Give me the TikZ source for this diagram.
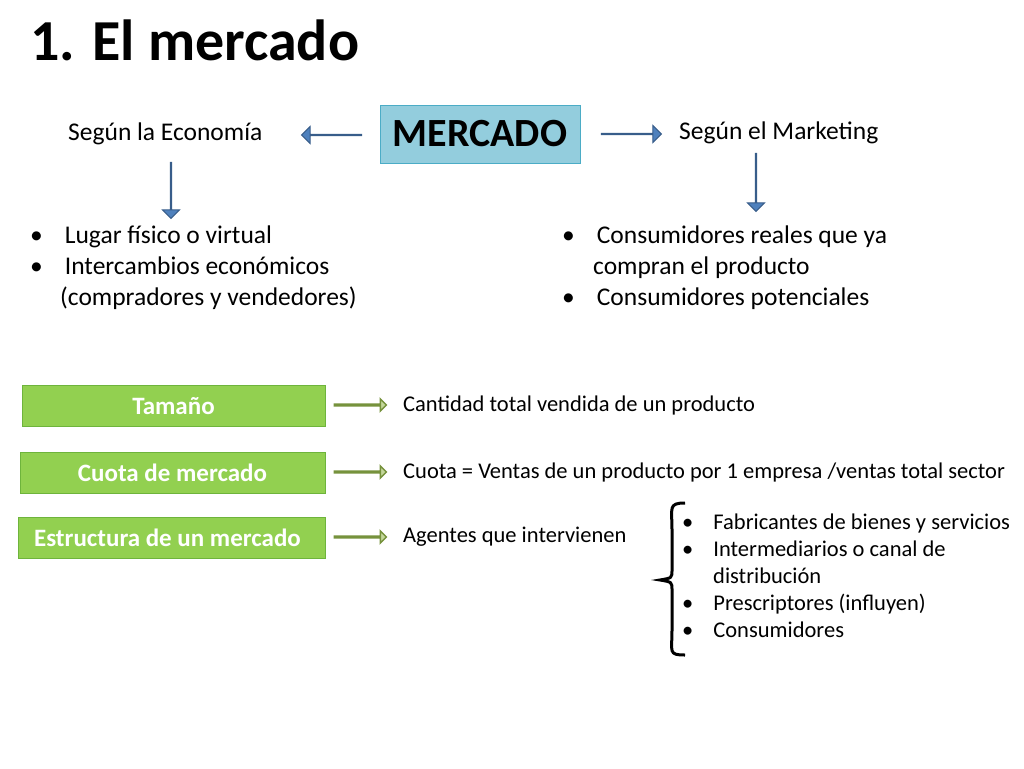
\documentclass[tikz,border=0pt]{standalone}
\usepackage{fontspec}
\setmainfont{Carlito}
\usetikzlibrary{shapes.arrows,decorations.pathreplacing}
\definecolor{bluefill}{RGB}{79,129,189}
\definecolor{blueline}{RGB}{56,93,138}
\definecolor{boxblue}{RGB}{147,205,221}
\definecolor{boxblueline}{RGB}{75,172,198}
\definecolor{gfill}{RGB}{146,208,80}
\definecolor{gline}{RGB}{110,180,60}
\definecolor{afill}{RGB}{196,215,155}
\definecolor{aline}{RGB}{118,146,60}
\tikzset{
 barrow/.style={single arrow, fill=bluefill, draw=blueline, line width=1pt, single arrow head extend=6pt, minimum height=#1, minimum width=17pt, inner sep=0pt},
 garrow/.style={single arrow, fill=afill, draw=aline, line width=1.5pt, single arrow head extend=5pt, minimum height=52pt, minimum width=12pt, inner sep=0pt},
 gbox/.style={fill=gfill, draw=gline, line width=1pt, text=white, font=\fontsize{25}{28}\selectfont\bfseries, minimum height=41pt, inner sep=0pt},
 txt/.style={font=\fontsize{25.5}{30}\selectfont, anchor=west, inner sep=0pt},
 stxt/.style={font=\fontsize{22.5}{27}\selectfont, anchor=west, inner sep=0pt, align=left},
}
\begin{document}
\begin{tikzpicture}[x=1pt,y=-1pt]
\useasboundingbox (0,0) rectangle (1024,768);
\node[anchor=west, inner sep=0pt, font=\fontsize{58}{60}\selectfont\bfseries] (title) at (30,40) {1. El mercado};
\node[fill=boxblue, draw=boxblueline, line width=1pt, minimum width=200pt, minimum height=58pt, font=\fontsize{40}{44}\selectfont\bfseries] (merc) at (480,134) {MERCADO};
\node[barrow=60pt, shape border rotate=180] (la) at (332,135) {};
\node[barrow=60pt] (ra) at (631,134) {};
\node[txt] (eco) at (68,134) {Según la Economía};
\node[txt] (mkt) at (679,133) {Según el Marketing};
\node[barrow=56pt, shape border rotate=270] (da) at (171,190) {};
\node[barrow=58pt, shape border rotate=270] (db) at (756,182) {};
\node[txt, align=left, anchor=north west, font=\fontsize{25.5}{31}\selectfont] (lb) at (30,226) {•\hspace{22pt}Lugar físico o virtual\\•\hspace{22pt}Intercambios económicos\\\hspace{30pt}(compradores y vendedores)};
\node[txt, align=left, anchor=north west, font=\fontsize{25.5}{31}\selectfont] (rb) at (562,226) {•\hspace{22pt}Consumidores reales que ya\\\hspace{31pt}compran el producto\\•\hspace{22pt}Consumidores potenciales};
\node[gbox, minimum width=303pt] (t1) at (173.5,406) {Tamaño};
\node[gbox, minimum width=305pt] (t2) at (172.5,472.5) {Cuota de mercado};
\node[gbox, minimum width=307pt] (t3) at (171.5,537.5) {\hspace{-8pt}Estructura de un mercado};
\node[garrow] (g1) at (360,405) {};
\node[garrow] (g2) at (360,472) {};
\node[garrow] (g3) at (360,537) {};
\node[stxt] (s1) at (403,405) {Cantidad total vendida de un producto};
\node[stxt] (s2) at (403,472) {Cuota = Ventas de un producto por 1 empresa /ventas total sector};
\node[stxt] (s3) at (403,537) {Agentes que intervienen};
\draw[line width=3pt] (685,503) .. controls (668,503) and (672,508) .. (672,530) -- (672,570) .. controls (672,578) .. (660,580) .. controls (672,582) .. (672,590) -- (672,630) .. controls (672,652) and (668,655) .. (685,655);
\node[stxt, anchor=north west] (s4) at (682,514) {•\hspace{20pt}Fabricantes de bienes y servicios\\•\hspace{20pt}Intermediarios o canal de\\\hspace{31pt}distribución\\•\hspace{20pt}Prescriptores (influyen)\\•\hspace{20pt}Consumidores};
\end{tikzpicture}
\end{document}
